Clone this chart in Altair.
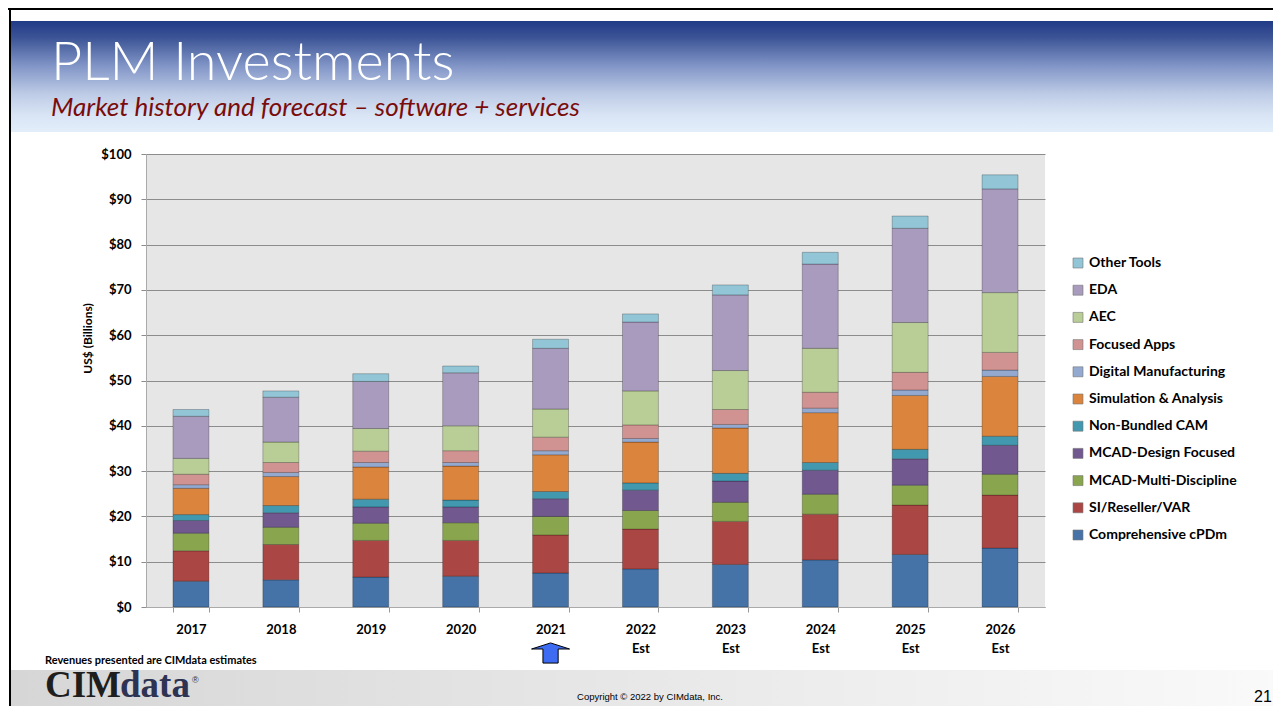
import altair as alt
import pandas as pd

years = ["2017", "2018", "2019", "2020", "2021",
         "2022 Est", "2023 Est", "2024 Est", "2025 Est", "2026 Est"]

# segments listed bottom to top of each stack
segments = ["Comprehensive cPDm", "SI/Reseller/VAR", "MCAD-Multi-Discipline",
            "MCAD-Design Focused", "Non-Bundled CAM", "Simulation & Analysis",
            "Digital Manufacturing", "Focused Apps", "AEC", "EDA", "Other Tools"]
colors = ["#4572a7", "#aa4643", "#89a54e", "#71588f", "#4198af", "#db843d",
          "#93a9cf", "#d19392", "#b9cd96", "#a99bbd", "#92c5d6"]

cpdm = [5.7, 6.0, 6.6, 6.8, 7.5, 8.4, 9.4, 10.4, 11.6, 13.0]
si_var = [6.7, 7.8, 8.1, 7.9, 8.4, 8.8, 9.5, 10.1, 10.9, 11.7]
mcad_md = [3.9, 3.8, 3.8, 3.9, 4.1, 4.1, 4.2, 4.4, 4.4, 4.6]
mcad_df = [2.8, 3.2, 3.6, 3.5, 3.9, 4.5, 4.7, 5.3, 5.8, 6.4]
cam = [1.3, 1.6, 1.7, 1.5, 1.6, 1.6, 1.7, 1.7, 2.1, 2.0]
sim = [5.8, 6.4, 7.1, 7.5, 8.1, 9.0, 10.0, 11.0, 11.9, 13.2]
dig_mfg = [0.8, 0.9, 1.0, 0.8, 0.9, 0.8, 0.8, 1.0, 1.2, 1.4]
focused = [2.3, 2.2, 2.5, 2.6, 3.0, 3.0, 3.3, 3.5, 3.9, 3.9]
aec = [3.5, 4.5, 5.0, 5.5, 6.2, 7.5, 8.6, 9.7, 11.0, 13.2]
eda = [9.3, 9.9, 10.4, 11.7, 13.4, 15.2, 16.7, 18.6, 20.8, 22.9]
other = [1.5, 1.4, 1.7, 1.5, 2.0, 1.8, 2.2, 2.6, 2.7, 3.1]

y_ticks = list(range(0, 101, 10))

series = [cpdm, si_var, mcad_md, mcad_df, cam, sim, dig_mfg, focused, aec, eda, other]
rows = []
for i, (name, vals) in enumerate(zip(segments, series)):
    for yr, v in zip(years, vals):
        rows.append({"Year": yr, "Segment": name, "Value": v, "idx": i})
df = pd.DataFrame(rows)

legend_domain = list(reversed(segments))
legend_range = list(reversed(colors))

W, H = 899, 453
PAD = {"left": 138, "top": 146, "right": 1265 - 138 - W, "bottom": 698 - 146 - H}

bars = alt.Chart(df).mark_bar(stroke="#000000", strokeOpacity=0.3, strokeWidth=0.8).encode(
    x=alt.X("Year:N", sort=years, title=None,
            scale=alt.Scale(paddingInner=0.6, paddingOuter=0.3),
            axis=alt.Axis(labelAngle=0, labelExpr="split(datum.label, ' ')",
                          labelFont="Lato", labelFontWeight="bold", labelFontSize=13,
                          labelColor="#000000", labelPadding=11, labelLineHeight=19,
                          tickBand="extent", tickColor="#999999", tickSize=5,
                          domainColor="#aaaaaa", grid=False)),
    y=alt.Y("Value:Q", stack="zero",
            scale=alt.Scale(domain=[0, 100], nice=False),
            axis=alt.Axis(values=y_ticks, labelExpr="'$' + datum.value",
                          title="US$ (Billions)", titleFont="Lato", titleFontWeight="bold",
                          titleFontSize=12, titleColor="#000000",
                          titleX=-59, titleY=184, titleAlign="center", titleBaseline="middle",
                          labelFont="Lato", labelFontWeight="bold", labelFontSize=13,
                          labelColor="#000000", labelPadding=10,
                          grid=True, gridColor="#8c8c8c", gridWidth=1,
                          tickColor="#8c8c8c", tickSize=5, domainColor="#aaaaaa")),
    color=alt.Color("Segment:N",
                    scale=alt.Scale(domain=legend_domain, range=legend_range),
                    legend=alt.Legend(title=None, orient="none", legendX=925, legendY=102,
                                      symbolType="square", symbolSize=100,
                                      symbolStrokeColor="#777777", symbolStrokeWidth=0.6,
                                      labelFont="Lato", labelFontWeight="bold",
                                      labelFontSize=14, labelColor="#000000",
                                      labelOffset=4, rowPadding=13.2, padding=0)),
    order=alt.Order("idx:Q", sort="ascending"),
)

one = pd.DataFrame({"k": [0]})

header = alt.Chart(one).mark_rect(
    color=alt.LinearGradient(
        gradient="linear", x1=0, x2=0, y1=0, y2=1,
        stops=[alt.GradientStop(offset=0, color="#213a86"),
               alt.GradientStop(offset=0.15, color="#3c5496"),
               alt.GradientStop(offset=0.4, color="#8094c6"),
               alt.GradientStop(offset=0.65, color="#bccae5"),
               alt.GradientStop(offset=0.85, color="#d9e5f5"),
               alt.GradientStop(offset=1, color="#e2eefa")])
).encode(x=alt.value(-135), x2=alt.value(1140), y=alt.value(-133), y2=alt.value(-22))

footer = alt.Chart(one).mark_rect(
    color=alt.LinearGradient(
        gradient="linear", x1=0, x2=1, y1=0, y2=0,
        stops=[alt.GradientStop(offset=0, color="#d6d6d6"),
               alt.GradientStop(offset=1, color="#fafafa")])
).encode(x=alt.value(-135), x2=alt.value(1140), y=alt.value(516), y2=alt.value(600))

left_border = alt.Chart(one).mark_rect(color="#000000").encode(
    x=alt.value(-137), x2=alt.value(-135), y=alt.value(-146), y2=alt.value(600))
top_border = alt.Chart(one).mark_rect(color="#000000").encode(
    x=alt.value(-138), x2=alt.value(1140), y=alt.value(-146), y2=alt.value(-144))


def label(txt, x, y, size, color="#000000", font="Lato", weight="normal",
          style="normal", align="left", baseline="alphabetic"):
    return alt.Chart(one).mark_text(
        text=txt, font=font, fontSize=size, fontWeight=weight, fontStyle=style,
        color=color, align=align, baseline=baseline
    ).encode(x=alt.value(x), y=alt.value(y))


title = label("PLM Investments", -95, -74, 54, color="#ffffff", weight=300)
subtitle = label("Market history and forecast \u2013 software + services", -95, -38, 26,
                 color="#7b0c0c", style="italic")
note = label("Revenues presented are CIMdata estimates", -101, 507, 11,
             weight="bold", baseline="middle")
copyright_txt = label("Copyright \u00a9 2022 by CIMdata, Inc.", 504, 543, 9.5,
                      font="Liberation Sans", align="center", baseline="middle")
page_no = label("21", 1117, 543, 16, font="Liberation Sans", align="center",
                baseline="middle")
logo_cim = label("CIM", -101, 551, 37, color="#1e1e1e", font="Liberation Serif",
                 weight="bold", baseline="bottom")
logo_data = label("data", -26, 551, 37, color="#2d3352", font="Liberation Serif",
                  weight="bold", baseline="bottom")
logo_r = label("\u00ae", 46, 529, 9, color="#333333", font="Liberation Sans")

arrow_df = pd.DataFrame({"Year": ["2021"]})
arrow = alt.Chart(arrow_df).mark_point(
    shape="M0,-0.53 L1,-0.21 L0.4,-0.21 L0.4,0.53 L-0.4,0.53 L-0.4,-0.21 L-1,-0.21 Z",
    size=1444, filled=True, fill="#3d6cf2", stroke="#000000", strokeWidth=1, opacity=1
).encode(x=alt.X("Year:N", sort=years), y=alt.value(499))

chart = alt.layer(
    header, footer, left_border, top_border, bars, arrow,
    title, subtitle, note, copyright_txt, page_no, logo_cim, logo_data, logo_r
).properties(
    width=W, height=H, padding=PAD,
    autosize=alt.AutoSizeParams(type="none"),
    background="#ffffff",
).configure_view(fill="#e6e6e6", stroke=None)

chart.save("out.html", embed_options={"renderer": "svg", "actions": False})
